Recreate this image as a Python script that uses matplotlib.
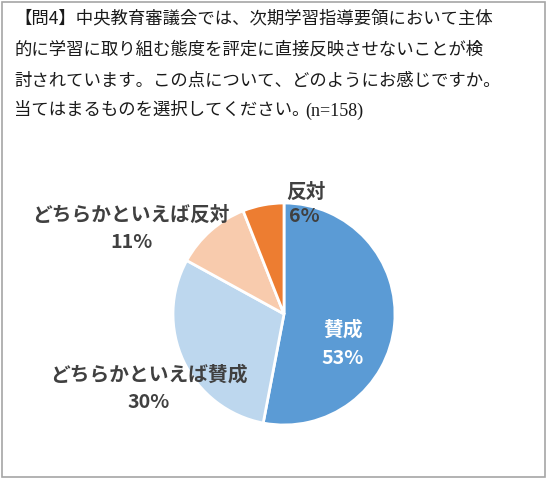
import matplotlib
matplotlib.use("Agg")
import matplotlib.pyplot as plt
from matplotlib.patches import Rectangle

plt.rcParams['font.family'] = ['Noto Sans CJK JP', 'DejaVu Sans']

# Data
categories = ['賛成', 'どちらかといえば賛成', 'どちらかといえば反対', '反対']
values = [53, 30, 11, 6]
pct_labels = ['53%', '30%', '11%', '6%']
colors = ['#5B9BD5', '#BDD7EE', '#F8CBAD', '#ED7D31']
title_lines = [
    '【問4】中央教育審議会では、次期学習指導要領において主体',
    '的に学習に取り組む態度を評定に直接反映させないことが検',
    '討されています。この点について、どのようにお感じですか。',
    '当てはまるものを選択してください。',
]
n_text = '(n=158)'

W, H = 549, 480
fig = plt.figure(figsize=(W / 100, H / 100), dpi=100)

# border
fig.patches.append(Rectangle((1.5 / W, 3 / H), (544.5 - 1.5) / W, (478 - 3) / H,
                             transform=fig.transFigure, fill=False,
                             edgecolor='#A6A6A6', linewidth=1.2))

# title
ys = [18, 50, 81, 110]
txts = []
for line, y in zip(title_lines, ys):
    t = fig.text(14 / W, 1 - y / H, line, fontsize=12.5, color='#1a1a1a',
                 va='center', ha='left')
    txts.append(t)
fig.canvas.draw()
r = fig.canvas.get_renderer()
bb = txts[-1].get_window_extent(r)
fig.text((bb.x1 - 4) / W, 1 - (ys[-1] + 1) / H, n_text, fontsize=13, color='#1a1a1a',
         va='center', ha='left', family=['Liberation Serif', 'Noto Sans CJK JP'])

# pie
cx, cy, rad = 284, 314, 111
ax = fig.add_axes([(cx - rad) / W, 1 - (cy + rad) / H, 2 * rad / W, 2 * rad / H])
wedges, _ = ax.pie(values, colors=colors, startangle=90, counterclock=False,
                   wedgeprops=dict(edgecolor='white', linewidth=2))
ax.set_xlim(-1, 1)
ax.set_ylim(-1, 1)
ax.set_aspect('equal')

# label positions in pixels (name, pct)
label_pos = [((343, 330), (343, 358)),
             ((149, 375), (149, 403)),
             ((131, 215), (131, 242)),
             ((306, 192), (304, 217))]
label_colors = ['white', '#404040', '#404040', '#404040']
for cat, pct, (p1, p2), c in zip(categories, pct_labels, label_pos, label_colors):
    for txt, (px, py) in ((cat, p1), (pct, p2)):
        ax.text((px - cx) / rad, -(py - cy) / rad, txt, fontsize=14.2,
                fontweight='bold', color=c, ha='center', va='center',
                clip_on=False)

fig.savefig('out.png', dpi=100)
